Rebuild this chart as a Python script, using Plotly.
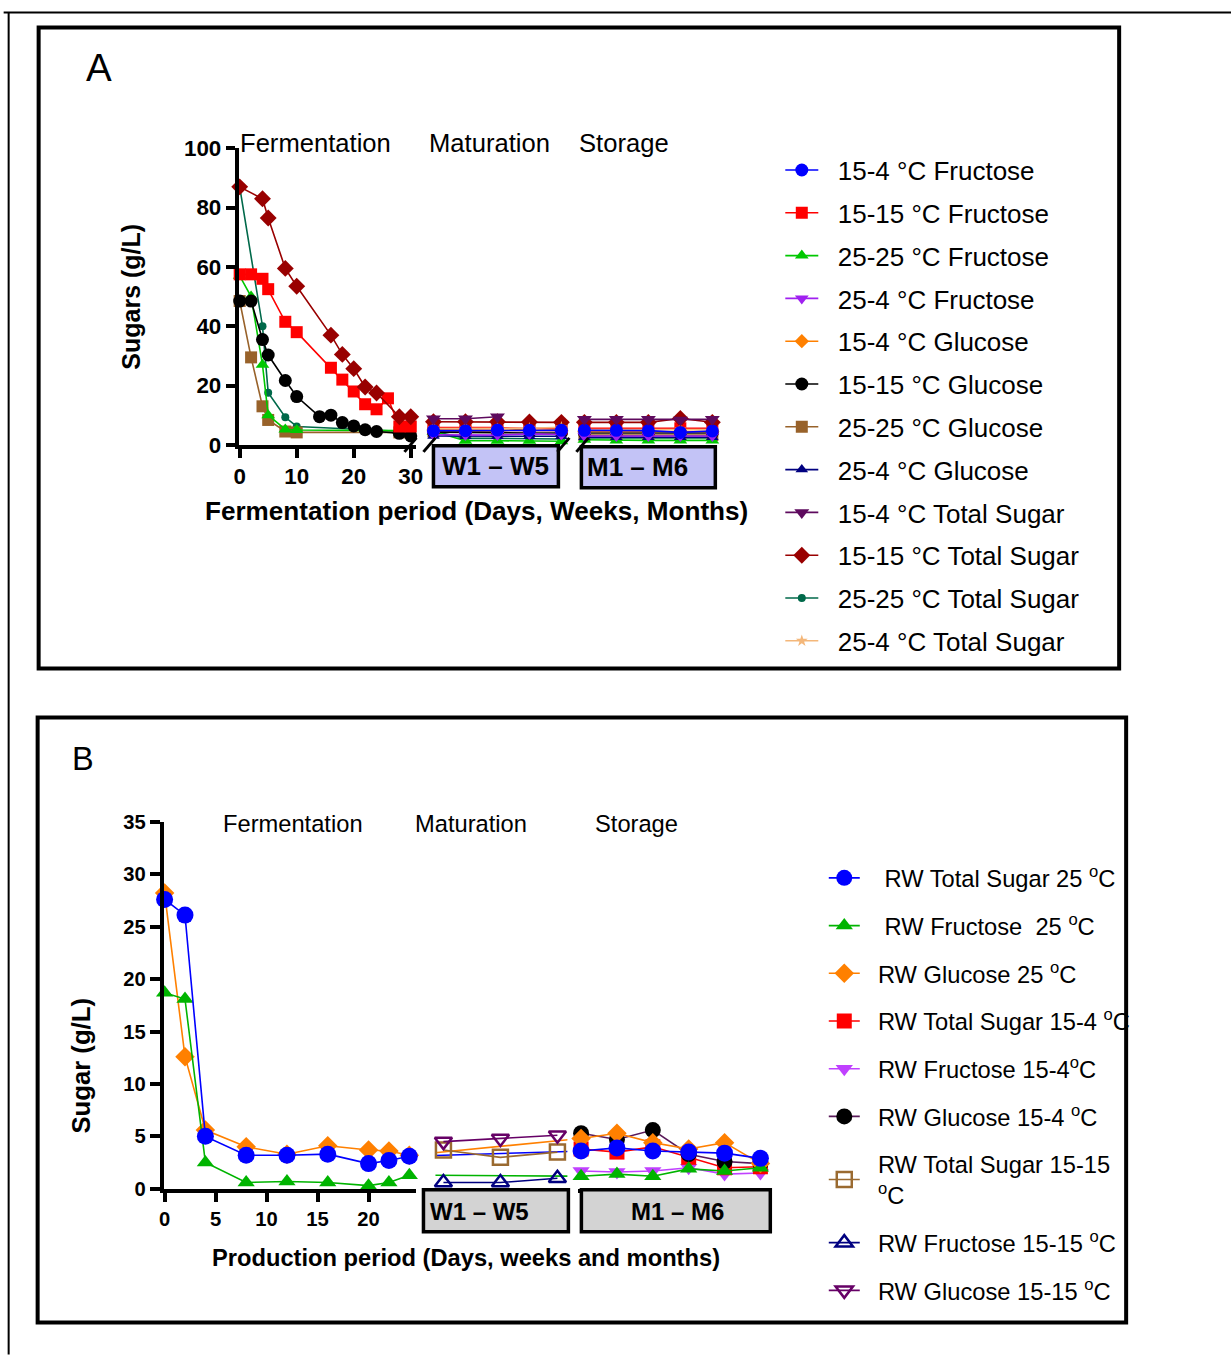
import plotly.graph_objects as go

W, H = 1231, 1356
# measured page->picture mapping of the photographing step; positions below are given in
# picture pixels and converted back to page (paper) coordinates
SX, SY, OX, OY = 0.9907, 0.983, 4.35, 11.5


def fx(p):
    return ((p - OX) / SX) / W


def fy(p):
    return 1 - ((p - OY) / SY) / H


FONT = "Arial, 'Liberation Sans', sans-serif"
NB = "\u00a0"

# ---------------- Panel A data ----------------
A_WEEKS = [1, 2, 3, 4, 5]
A_WEEKS_SHORT = [1, 2, 3]
A_MONTHS = [1, 2, 3, 4, 5]
A_FERM_TICKS = [0, 10, 20, 30]
A_Y_TICKS = [0, 20, 40, 60, 80, 100]

A_F1515_DAYS = [0, 2, 4, 5, 8, 10, 16, 18, 20, 22, 24, 26, 28, 30]
A_F1515_FERM = [57.5, 57.5, 56, 52.5, 41.5, 38, 26, 22, 18, 13.7, 12, 15.7, 6.2, 6.2]
A_G1515_DAYS = [0, 2, 4, 5, 8, 10, 14, 16, 18, 20, 22, 24, 28, 30]
A_G1515_FERM = [48.5, 48.5, 35.5, 30.3, 21.7, 16.3, 9.5, 10, 7.5, 6.4, 5.1, 4.5, 3.9, 3.0]
A_T1515_DAYS = [0, 4, 5, 8, 10, 16, 18, 20, 22, 24, 28, 30]
A_T1515_FERM = [87, 83, 76.5, 59.5, 53.5, 37, 30.5, 25.7, 19.5, 17.5, 9.5, 9.5]
A_F2525_DAYS = [0, 2, 4, 5, 8, 10, 28]
A_F2525_FERM = [57, 50, 27, 10, 5.2, 5, 4.8]
A_G2525_DAYS = [0, 2, 4, 5, 8, 10, 28]
A_G2525_FERM = [48.5, 29.5, 13, 8.4, 4.5, 4.2, 4.2]
A_T2525_DAYS = [0, 4, 5, 8, 10, 28]
A_T2525_FERM = [87, 40, 17.6, 9.3, 6.2, 4.6]

A_MAT_F154 = [4.8, 4.8, 5.0, 4.9, 4.9]
A_STO_F154 = [4.9, 4.9, 4.8, 4.2, 4.7]
A_MAT_F1515 = [5.8, 5.8, 5.8, 5.5, 5.5]
A_STO_F1515 = [5.6, 5.6, 5.4, 5.6, 5.6]
A_MAT_F2525 = [4.5, 1.4, 1.4, 1.4, 1.2]
A_STO_F2525 = [1.7, 1.5, 1.5, 1.5, 1.5]
A_MAT_F254 = [3.4, 3.3, 3.3, 3.7, 3.5]
A_STO_F254 = [3.0, 3.0, 3.0, 3.0, 3.0]
A_MAT_G154 = [5.0, 5.0, 5.0, 4.8, 4.8]
A_STO_G154 = [4.5, 4.5, 4.5, 4.5, 4.5]
A_MAT_G1515 = [4.3, 4.1, 4.1, 4.0, 4.0]
A_STO_G1515 = [4.0, 4.0, 4.0, 4.0, 4.0]
A_MAT_G2525 = [4.5, 4.5, 4.5, 5.6, 5.3]
A_STO_G2525 = [3.3, 3.3, 3.3, 3.3, 3.3]
A_MAT_G254 = [3.0, 2.9, 2.9, 2.9, 2.9]
A_STO_G254 = [2.6, 2.6, 2.6, 2.6, 2.6]
A_MAT_T154 = [8.8, 8.8, 9.5]
A_STO_T154 = [8.6, 8.6, 8.6, 8.4, 8.6]
A_MAT_T1515 = [7.8, 7.8, 7.8, 7.7, 7.6]
A_STO_T1515 = [7.6, 7.6, 7.6, 8.9, 7.6]
A_MAT_T2525 = [4.6, 2.2, 2.2, 2.2, 2.0]
A_STO_T2525 = [2.3, 2.3, 2.3, 2.3, 2.3]
A_MAT_T254 = [5.5, 5.5, 5.5, 5.6, 5.9]
A_STO_T254 = [5.2, 5.2, 5.2, 5.2, 5.2]

# ---------------- Panel B data ----------------
B_DAYS = [0, 2, 4, 8, 12, 16, 20, 22, 24]
B_WEEKS = [1, 3, 5]
B_MONTHS = [1, 2, 3, 4, 5, 6]
B_FERM_TICKS = [0, 5, 10, 15, 20]
B_Y_TICKS = [0, 5, 10, 15, 20, 25, 30, 35]

B_T25_FERM = [27.6, 26.1, 5.0, 3.2, 3.2, 3.3, 2.4, 2.7, 3.1]
B_F25_FERM = [18.7, 18.1, 2.5, 0.6, 0.7, 0.6, 0.3, 0.6, 1.3]
B_G25_FERM = [28.2, 12.6, 5.6, 4.0, 3.3, 4.1, 3.7, 3.6, 3.2]
B_T25_STO = [3.6, 3.9, 3.6, 3.5, 3.4, 2.9]
B_F25_STO = [1.2, 1.4, 1.2, 1.9, 1.7, 2.0]
B_G25_STO = [4.8, 5.3, 4.4, 3.8, 4.4, 2.4]
B_T154_STO = [3.8, 3.5, 4.0, 3.0, 2.0, 2.1]
B_F154_STO = [1.7, 1.6, 1.7, 2.0, 1.4, 1.5]
B_G154_STO = [5.3, 4.7, 5.6, 3.3, 2.6, 2.4]
B_T1515_MAT = [3.7, 3.0, 3.5]
B_F1515_MAT = [0.6, 0.6, 1.0]
B_G1515_MAT = [4.5, 4.8, 5.1]

# ---------------- axes geometry (picture pixels) ----------------
AX = {
    'x': dict(dom=(238, 416), rng=(-0.2, 31)),
    'x2': dict(dom=(425, 565), rng=(0.75, 5.125)),
    'x3': dict(dom=(575, 716), rng=(0.71875, 5.125)),
    'x4': dict(dom=(163, 416), rng=(-0.1, 24.7)),
    'x5': dict(dom=(435, 567), rng=(0.72, 5.35)),
    'x6': dict(dom=(578, 768), rng=(0.925, 6.22)),
}


def to_px(ax, v):
    d, r = AX[ax]['dom'], AX[ax]['rng']
    return d[0] + (v - r[0]) / (r[1] - r[0]) * (d[1] - d[0])


def from_px(ax, p):
    d, r = AX[ax]['dom'], AX[ax]['rng']
    return r[0] + (p - d[0]) / (d[1] - d[0]) * (r[1] - r[0])


fig = go.Figure()


def add_series(name, color, symbol, size, segs, legend, rank, linecolor=None,
               open_marker=False, lw=1.6, pad=2):
    first = True
    label = NB * pad + name
    for xa, ya, xs, ys in segs:
        if open_marker:
            mk = dict(symbol=symbol, size=size, color=color, line=dict(width=2.5, color=color))
        else:
            mk = dict(symbol=symbol, size=size, color=color, line=dict(width=0))
        fig.add_trace(go.Scatter(
            x=xs, y=ys, xaxis=xa, yaxis=ya, mode='lines+markers', name=label,
            legendgroup=name, showlegend=first, legend=legend, legendrank=rank,
            line=dict(color=linecolor or color, width=lw), marker=mk, cliponaxis=False))
        first = False


def add_bridge(name, color, xa, xs, ys, lw=1.6):
    fig.add_trace(go.Scatter(x=xs, y=ys, xaxis=xa, yaxis='y2', mode='lines',
                             legendgroup=name, showlegend=False,
                             line=dict(color=color, width=lw)))


# ---------------- Panel A traces (draw order) ----------------
C = dict(blue='#0000ff', red='#ff0000', green='#00c800', purple='#a020f0',
         orange='#ff8000', black='#000000', brown='#98622a', navy='#000080',
         dpurple='#5e0a5e', dred='#990000', dgreen='#00694a', peach='#f4b77a')

add_series('25-25 °C Total Sugar', C['dgreen'], 'circle', 8,
           [('x', 'y', A_T2525_DAYS, A_T2525_FERM), ('x2', 'y', A_WEEKS, A_MAT_T2525),
            ('x3', 'y', A_MONTHS, A_STO_T2525)], 'legend', 11)
add_series('25-25 °C Glucose', C['brown'], 'square', 12,
           [('x', 'y', A_G2525_DAYS, A_G2525_FERM), ('x2', 'y', A_WEEKS, A_MAT_G2525),
            ('x3', 'y', A_MONTHS, A_STO_G2525)], 'legend', 7)
add_series('25-25 °C Fructose', C['green'], 'triangle-up', 12,
           [('x', 'y', A_F2525_DAYS, A_F2525_FERM), ('x2', 'y', A_WEEKS, A_MAT_F2525),
            ('x3', 'y', A_MONTHS, A_STO_F2525)], 'legend', 3)
add_series('15-15 °C Glucose', C['black'], 'circle', 13,
           [('x', 'y', A_G1515_DAYS, A_G1515_FERM), ('x2', 'y', A_WEEKS, A_MAT_G1515),
            ('x3', 'y', A_MONTHS, A_STO_G1515)], 'legend', 6)
add_series('15-15 °C Fructose', C['red'], 'square', 12,
           [('x', 'y', A_F1515_DAYS, A_F1515_FERM), ('x2', 'y', A_WEEKS, A_MAT_F1515),
            ('x3', 'y', A_MONTHS, A_STO_F1515)], 'legend', 2)
add_series('15-15 °C Total Sugar', C['dred'], 'diamond', 13,
           [('x', 'y', A_T1515_DAYS, A_T1515_FERM), ('x2', 'y', A_WEEKS, A_MAT_T1515),
            ('x3', 'y', A_MONTHS, A_STO_T1515)], 'legend', 10)
add_series('25-4 °C Total Sugar', C['peach'], 'star', 9,
           [('x2', 'y', A_WEEKS, A_MAT_T254), ('x3', 'y', A_MONTHS, A_STO_T254)], 'legend', 12)
add_series('15-4 °C Glucose', C['orange'], 'diamond', 11,
           [('x2', 'y', A_WEEKS, A_MAT_G154), ('x3', 'y', A_MONTHS, A_STO_G154)], 'legend', 5)
add_series('25-4 °C Glucose', C['navy'], 'triangle-up', 11,
           [('x2', 'y', A_WEEKS, A_MAT_G254), ('x3', 'y', A_MONTHS, A_STO_G254)], 'legend', 8)
add_series('25-4 °C Fructose', C['purple'], 'triangle-down', 12,
           [('x2', 'y', A_WEEKS, A_MAT_F254), ('x3', 'y', A_MONTHS, A_STO_F254)], 'legend', 4)
add_series('15-4 °C Fructose', C['blue'], 'circle', 13,
           [('x2', 'y', A_WEEKS, A_MAT_F154), ('x3', 'y', A_MONTHS, A_STO_F154)], 'legend', 1)
add_series('15-4 °C Total Sugar', C['dpurple'], 'triangle-down', 13,
           [('x2', 'y', A_WEEKS_SHORT, A_MAT_T154), ('x3', 'y', A_MONTHS, A_STO_T154)], 'legend', 9)

# ---------------- Panel B traces ----------------
D = dict(blue='#0000ff', green='#00b400', orange='#ff8000', red='#ff0000',
         violet='#c040ff', black='#000000', bline='#5a1a5a', brown='#9a6a30',
         navy='#000080', dpurple='#660066')

SUP = "<sup>o</sup>C"
add_series('RW Fructose 15-4' + SUP, D['violet'], 'triangle-down', 15,
           [('x6', 'y2', B_MONTHS, B_F154_STO)], 'legend2', 5)
add_series('RW Total Sugar 15-4 ' + SUP, D['red'], 'square', 15,
           [('x6', 'y2', B_MONTHS, B_T154_STO)], 'legend2', 4)
add_series('RW Glucose 15-4 ' + SUP, D['black'], 'circle', 16,
           [('x6', 'y2', B_MONTHS, B_G154_STO)], 'legend2', 6, linecolor=D['bline'])

# 25 °C series: fermentation + storage, connecting line visible through the maturation window
x5_from = from_px('x5', to_px('x4', B_DAYS[-1]))
x5_to = from_px('x5', to_px('x6', B_MONTHS[0]))
for nm, col, sym, sz, ferm, sto, rk, pd in [
        ('RW Glucose 25 ' + SUP, D['orange'], 'diamond', 15, B_G25_FERM, B_G25_STO, 3, 2),
        ('RW Fructose  25 ' + SUP, D['green'], 'triangle-up', 15, B_F25_FERM, B_F25_STO, 2, 3),
        ('RW Total Sugar 25 ' + SUP, D['blue'], 'circle', 17, B_T25_FERM, B_T25_STO, 1, 3)]:
    add_series(nm, col, sym, sz, [('x4', 'y2', B_DAYS, ferm), ('x6', 'y2', B_MONTHS, sto)],
               'legend2', rk, pad=pd)
    add_bridge(nm, col, 'x5', [x5_from, x5_to], [ferm[-1], sto[0]])

add_series('RW Total Sugar 15-15<br>' + NB + NB + SUP, D['brown'], 'square-open', 15,
           [('x5', 'y2', B_WEEKS, B_T1515_MAT)], 'legend2', 7, open_marker=True)
add_series('RW Fructose 15-15 ' + SUP, D['navy'], 'triangle-up-open', 15,
           [('x5', 'y2', B_WEEKS, B_F1515_MAT)], 'legend2', 8, open_marker=True)
add_series('RW Glucose 15-15 ' + SUP, D['dpurple'], 'triangle-down-open', 15,
           [('x5', 'y2', B_WEEKS, B_G1515_MAT)], 'legend2', 9, open_marker=True)

# ---------------- Layout ----------------
tickA = dict(family=FONT, size=22.4, color='black', weight='bold')
tickB = dict(family=FONT, size=20.2, color='black', weight='bold')
base = dict(showgrid=False, zeroline=False, linecolor='black', linewidth=3.5,
            tickcolor='black', tickwidth=3.5)


def xdom(k):
    return [fx(AX[k]['dom'][0]), fx(AX[k]['dom'][1])]


fig.update_layout(
    width=W, height=H, margin=dict(l=0, r=0, t=0, b=0),
    paper_bgcolor='white', plot_bgcolor='white',
    xaxis=dict(domain=xdom('x'), range=list(AX['x']['rng']), anchor='y', showline=True,
               ticks='outside', ticklen=9, tickvals=A_FERM_TICKS, tickfont=tickA, **base),
    yaxis=dict(domain=[fy(445), fy(148)], range=[0, 100], anchor='x', showline=True,
               ticks='outside', ticklen=9, tickvals=A_Y_TICKS, tickfont=tickA, **base),
    xaxis2=dict(domain=xdom('x2'), range=list(AX['x2']['rng']), anchor='y', visible=False),
    xaxis3=dict(domain=xdom('x3'), range=list(AX['x3']['rng']), anchor='y', visible=False),
    xaxis4=dict(domain=xdom('x4'), range=list(AX['x4']['rng']), anchor='y2', showline=True,
                ticks='outside', ticklen=9, tickvals=B_FERM_TICKS, tickfont=tickB, **base),
    yaxis2=dict(domain=[fy(1190), fy(822.5)], range=[0, 35], anchor='x4', showline=True,
                ticks='outside', ticklen=10, tickvals=B_Y_TICKS, tickfont=tickB, **base),
    xaxis5=dict(domain=xdom('x5'), range=list(AX['x5']['rng']), anchor='y2', showline=True,
                ticks='', showticklabels=False, **base),
    xaxis6=dict(domain=xdom('x6'), range=list(AX['x6']['rng']), anchor='y2', showline=True,
                ticks='', showticklabels=False, **base),
    legend=dict(x=fx(780), y=fy(146.3), xanchor='left', yanchor='top',
                font=dict(family=FONT, size=26, color='black'), traceorder='grouped',
                tracegroupgap=6.0, bgcolor='rgba(0,0,0,0)', itemwidth=33),
    legend2=dict(x=fx(823.5), y=fy(856.7), xanchor='left', yanchor='top',
                 font=dict(family=FONT, size=23.7, color='black'), traceorder='grouped',
                 tracegroupgap=13.9, bgcolor='rgba(0,0,0,0)', itemwidth=31),
)

shapes = []
# outer frame lines
shapes.append(dict(type='line', xref='paper', yref='paper', x0=fx(3), x1=fx(1231),
                   y0=fy(12), y1=fy(12), line=dict(color='black', width=2)))
shapes.append(dict(type='line', xref='paper', yref='paper', x0=fx(8), x1=fx(8),
                   y0=fy(12), y1=fy(1356), line=dict(color='black', width=2)))
# panel frames
shapes.append(dict(type='rect', xref='paper', yref='paper', x0=fx(38), x1=fx(1119),
                   y0=fy(27), y1=fy(669), line=dict(color='black', width=4)))
shapes.append(dict(type='rect', xref='paper', yref='paper', x0=fx(37), x1=fx(1126),
                   y0=fy(718), y1=fy(1324), line=dict(color='black', width=4)))
# period boxes
for (x0, x1, y0, y1, fill) in [(433, 558, 446, 487, '#c3c3f6'), (581, 715, 447, 488, '#c3c3f6'),
                               (423, 568, 1191, 1233, '#d3d3d3'), (581, 770, 1191, 1233, '#d3d3d3')]:
    shapes.append(dict(type='rect', xref='paper', yref='paper', x0=fx(x0), x1=fx(x1),
                       y0=fy(y0), y1=fy(y1), fillcolor=fill, line=dict(color='black', width=3.5)))
# axis break marks (panel A)
for xc in [410, 429, 563, 582]:
    shapes.append(dict(type='line', xref='paper', yref='paper', x0=fx(xc - 6), x1=fx(xc + 6),
                       y0=fy(452), y1=fy(438), line=dict(color='black', width=3)))
fig.update_layout(shapes=shapes)

ann = []


def text(x, y, s, size, bold=False, angle=0, xanchor='center'):
    ann.append(dict(x=fx(x), y=fy(y), xref='paper', yref='paper', text=s, showarrow=False,
                    xanchor=xanchor, yanchor='middle', textangle=angle,
                    font=dict(family=FONT, size=size, color='black',
                              weight='bold' if bold else 'normal')))


text(98, 67, 'A', 38.5)
text(315, 143, 'Fermentation', 25.6)
text(489, 143, 'Maturation', 25.6)
text(624, 143, 'Storage', 25.6)
text(130, 297, 'Sugars (g/L)', 25, bold=True, angle=-90)
text(476, 511, 'Fermentation period (Days, Weeks, Months)', 26.1, bold=True)
text(495, 466, 'W1 – W5', 26, bold=True)
text(637, 467, 'M1 – M6', 26, bold=True)

text(82, 760, 'B', 32.5)
text(292, 825, 'Fermentation', 23.7)
text(471, 825, 'Maturation', 23.7)
text(636, 825, 'Storage', 23.7)
text(80, 1067, 'Sugar (g/L)', 25.7, bold=True, angle=-90)
text(466, 1259, 'Production period (Days, weeks and months)', 23.7, bold=True)
text(479, 1213, 'W1 – W5', 24, bold=True)
text(677, 1213, 'M1 – M6', 24, bold=True)
fig.update_layout(annotations=ann)

fig.write_html("out.html")
